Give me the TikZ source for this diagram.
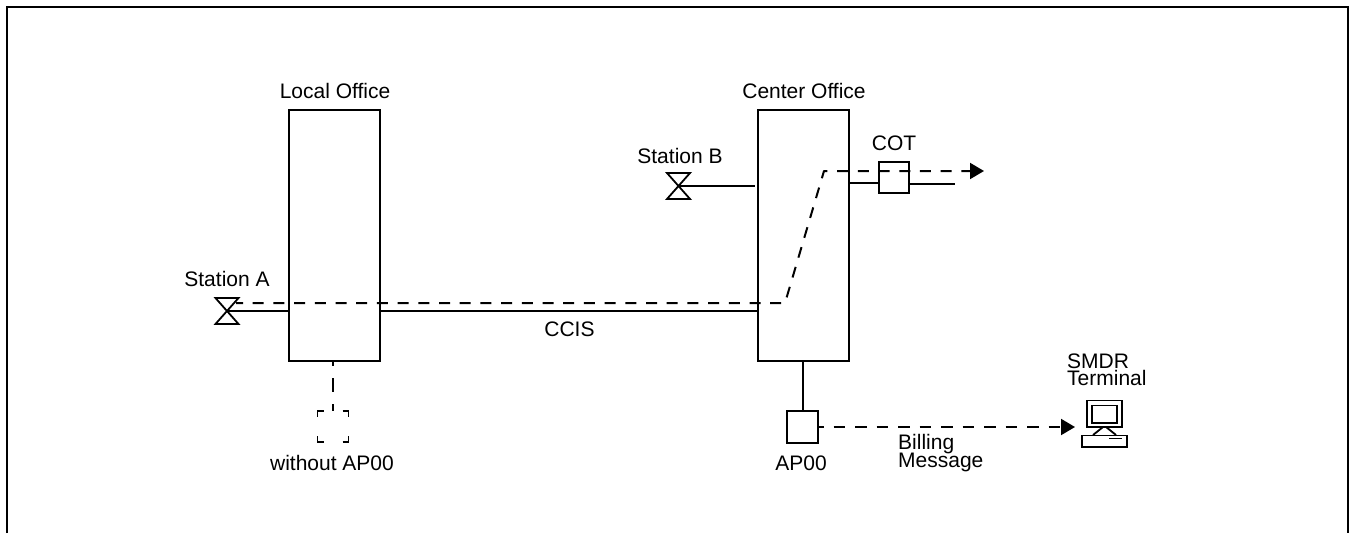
\documentclass[tikz,border=0pt]{standalone}
\usepackage{fontspec}
\setmainfont{Liberation Sans}
\usetikzlibrary{arrows.meta}
\tikzset{
  x=1pt,y=-1pt,
  ln/.style={line width=2pt,draw=black},
  thin ln/.style={line width=1.8pt,draw=black},
  dsh/.style={line width=2pt,draw=black,dash pattern=on 11pt off 9.7pt},
  tip/.style={-{Triangle[length=14pt,width=16pt]}},
  boxn/.style={draw=black,line width=2pt,fill=none,inner sep=0pt,outer sep=0pt,minimum width=#1},
  lbl/.style={inner sep=0pt,font=\fontsize{21pt}{17.5pt}\selectfont,align=center},
  lbll/.style={lbl,align=left,anchor=west},
}
\newcommand{\stationmark}[3]{\path (#1,#2) coordinate (#3);
  \draw[thin ln,line join=miter] (#1-11.5,#2-13) -- (#1+11.5,#2-13) -- (#1-11.5,#2+13) -- (#1+11.5,#2+13) -- cycle;}
\AtBeginDocument{\lineskiplimit=-20pt\relax}
\begin{document}
\begin{tikzpicture}
\useasboundingbox (0,0) rectangle (1349,533);
% frame
\coordinate (fbl) at (7,533);
\coordinate (ftl) at (7,6.5);
\coordinate (ftr) at (1348,6.5);
\coordinate (fbr) at (1348,533);
\draw[line width=2pt] (fbl) -- (ftl) -- (ftr) -- (fbr);
% offices
\node[boxn=91pt,minimum height=251pt] (local) at (334.5,235.5) {};
\node[boxn=91pt,minimum height=251pt] (center) at (803.5,235.5) {};
\node[lbl] (tlocal) at (335,91) {Local Office};
\node[lbl] (tcenter) at (804,91) {Center Office};
% stations
\stationmark{227}{311}{sa}
\stationmark{678.5}{186}{sb}
\node[lbl] (tsa) at (227,279) {Station A};
\node[lbl] (tsb) at (680,156) {Station B};
% solid
\draw[ln] (sa) -- (sa -| local.west);
\draw[ln] (local.east |- sa) -- (center.west |- sa);
\coordinate (sbend) at (755,186);
\draw[ln] (sb) -- (sbend);
% COT
\node[boxn=30pt,minimum height=31pt] (cot) at (894,177.5) {};
\node[lbl] (tcot) at (894,143) {COT};
\coordinate (cotr) at (955,184);
\coordinate (coty) at (0,183);
\draw[ln] (center.east |- coty) -- (cot.west |- coty);
\draw[ln] (cot.east |- cotr) -- (cotr);
% CCIS
\node[lbl] (tccis) at (569.5,329) {CCIS};
% AP00
\node[boxn=31pt,minimum height=32pt] (ap) at (802.5,427) {};
\node[lbl] (tap) at (801,463) {AP00};
\draw[ln] (center.south -| ap) -- (ap);
% dashed route
\coordinate (d0) at (236,303);
\coordinate (d1) at (785,303);
\coordinate (d2) at (824,171);
\coordinate (d3) at (984,171);
\draw[dsh,dash phase=4pt,tip,line join=round] (d0) -- (d1) -- (d2) -- (d3);
% ghost AP00
\coordinate (gc) at (333,426.5);
\coordinate (gt) at (333,411);
\draw[line width=2pt,dash pattern=on 14pt off 12pt,dash phase=9pt] (local.south -| gc) -- (gt);
\foreach \sx/\sy in {-1/-1,1/-1,-1/1,1/1}{
  \draw[thin ln,line cap=butt] (333+\sx*9.5,426.5+\sy*15.5) -- (333+\sx*15.5,426.5+\sy*15.5) -- (333+\sx*15.5,426.5+\sy*9.5);
}
\node[lbl] (tgh) at (332,463) {without AP00};
% billing
\coordinate (term) at (1075,427);
\draw[line width=2pt,dash pattern=on 11.5pt off 10pt,dash phase=6pt,tip] (ap.east) -- (term);
\node[lbll] (tbill) at (898,453) {Billing\\Message};
% terminal
\node[lbll] (tsmdr) at (1067,370) {SMDR\\Terminal};
\draw[thin ln] (1087,400.5) rectangle (1122,427);
\draw[thin ln] (1092,405.5) rectangle (1117,423);
\draw[thin ln] (1103,427) -- (1093,435);
\draw[thin ln] (1106,427) -- (1116,435);
\draw[thin ln] (1082,435.5) rectangle (1127,447);
\draw[thin ln] (1109,438.5) -- (1122,438.5);
\end{tikzpicture}
\end{document}
